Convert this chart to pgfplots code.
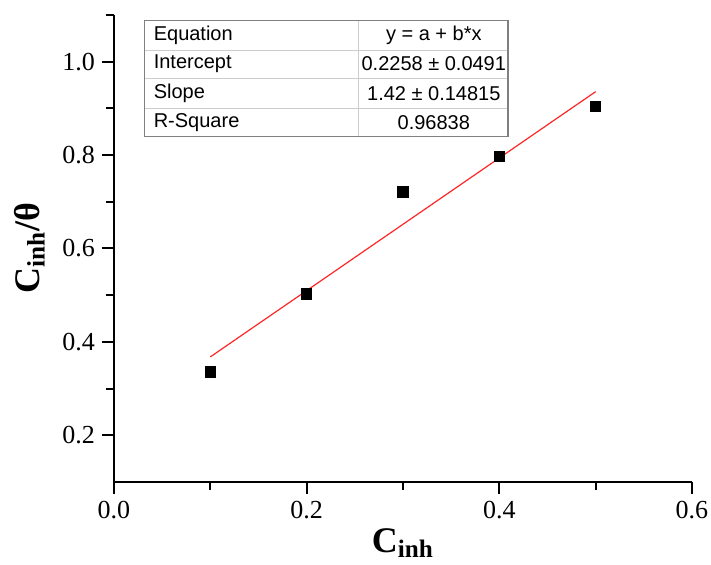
\documentclass[border=0pt]{standalone}
\usepackage{fontspec}
\setmainfont{Liberation Serif}
\newfontfamily\arial{Liberation Sans}
\usepackage{pgfplots}
\pgfplotsset{compat=1.18}
\begin{document}
\begin{tikzpicture}
\begin{axis}[
  scale only axis, width=289pt, height=233.5pt,
  xmin=0, xmax=0.6, ymin=0.1, ymax=1.1,
  axis x line=bottom, axis y line=left, axis line style={-, line width=1pt},
  xtick={0,0.2,0.4,0.6}, ytick={0.2,0.4,0.6,0.8,1.0},
  minor xtick={0.1,0.3,0.5}, minor ytick={0.3,0.5,0.7,0.9,1.1},
  tick align=outside,
  major tick length=6pt, minor tick length=4pt,
  major tick style={line width=1pt, black},
  minor tick style={line width=1pt, black},
  /pgf/number format/assume math mode=true,
  xticklabel style={/pgf/number format/fixed, /pgf/number format/fixed zerofill, /pgf/number format/precision=1},
  yticklabel style={/pgf/number format/fixed, /pgf/number format/fixed zerofill, /pgf/number format/precision=1},
  tick label style={font=\fontsize{13}{15}\selectfont},
  xlabel={\textbf{C\textsubscript{inh}}},
  ylabel={\textbf{C\textsubscript{inh}/θ}},
  label style={font=\fontsize{18}{20}\selectfont},
  xlabel style={yshift=2pt},
  ylabel style={yshift=2pt},
  clip=false,
]
% fit line y = 0.2258 + 1.42x
\addplot[red!85!white, line width=0.6pt] coordinates {(0.1,0.3678) (0.5,0.9358)};
\addplot[only marks, mark=square*, mark size=2.6pt, black] coordinates {
  (0.1,0.336) (0.2,0.503) (0.3,0.721) (0.4,0.797) (0.5,0.904)};
% results table
\draw[gray!40, line width=0.5pt] (axis cs:0.254,0.840) -- (axis cs:0.254,1.089)
  (axis cs:0.032,1.025) -- (axis cs:0.409,1.025)
  (axis cs:0.032,0.963) -- (axis cs:0.409,0.963)
  (axis cs:0.032,0.900) -- (axis cs:0.409,0.900);
\draw[gray, line width=0.6pt] (axis cs:0.032,0.840) rectangle (axis cs:0.409,1.089);
\begin{scope}[font=\arial\fontsize{10}{12}\selectfont]
\node[anchor=west] at (axis cs:0.034,1.057) {Equation};
\node[anchor=west] at (axis cs:0.034,0.995) {Intercept};
\node[anchor=west] at (axis cs:0.034,0.932) {Slope};
\node[anchor=west] at (axis cs:0.034,0.870) {R-Square};
\node at (axis cs:0.332,1.057) {y = a + b*x};
\node at (axis cs:0.332,0.995) {0.2258 ± 0.0491};
\node at (axis cs:0.332,0.932) {1.42 ± 0.14815};
\node at (axis cs:0.332,0.870) {0.96838};
\end{scope}
\coordinate (bbA) at (rel axis cs:-0.1972,-0.1777);
\coordinate (bbB) at (rel axis cs:1.0329,1.0321);
\end{axis}
\pgfresetboundingbox
\path (bbA) rectangle (bbB);
\end{tikzpicture}
\end{document}
